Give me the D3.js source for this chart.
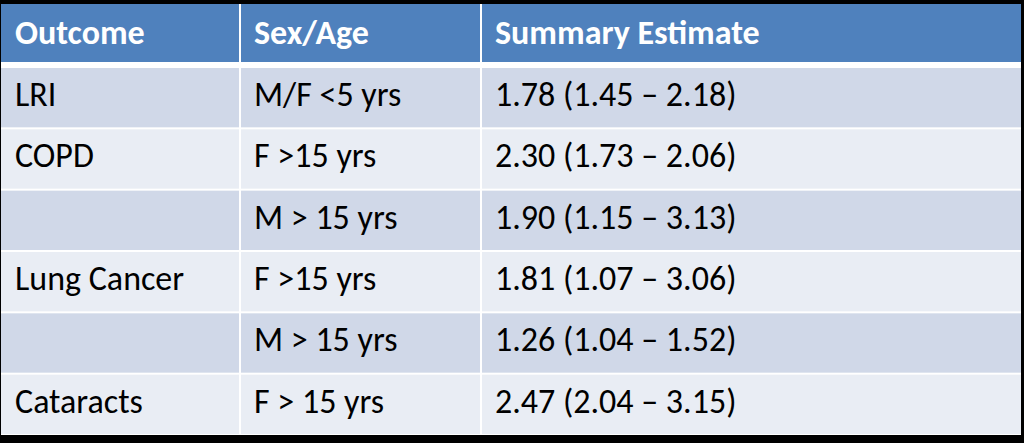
<!DOCTYPE html>
<html>
<head>
<meta charset="utf-8">
<script src="https://cdn.jsdelivr.net/npm/d3@7"></script>
<style>
  html, body { margin: 0; padding: 0; background: #000; }
  svg { display: block; }
</style>
</head>
<body>
<div id="table"></div>
<script>
const headers = ['Outcome', 'Sex/Age', 'Summary Estimate']
const outcomes = ['LRI', 'COPD', '', 'Lung Cancer', '', 'Cataracts']
const sexAge = ['M/F <5 yrs', 'F >15 yrs', 'M > 15 yrs', 'F >15 yrs', 'M > 15 yrs', 'F > 15 yrs']
const estimates = ['1.78 (1.45 – 2.18)', '2.30 (1.73 – 2.06)', '1.90 (1.15 – 3.13)',
  '1.81 (1.07 – 3.06)', '1.26 (1.04 – 1.52)', '2.47 (2.04 – 3.15)']

const width = 1024
const height = 443
const fontFamily = 'Carlito, Lato, "Open Sans", sans-serif'
const fontSize = 34

const svg = d3.select('#table').append('svg')
  .attr('width', width)
  .attr('height', height)

svg.append('rect').attr('width', width).attr('height', height).attr('fill', '#000')

// column edges: Outcome | Sex/Age | Summary Estimate
const colEdges = [1, 240, 481, 1021]
const x = d3.scaleOrdinal().domain([0, 1, 2]).range(colEdges.slice(0, 3))
const colWidth = i => colEdges[i + 1] - colEdges[i]

// white table body behind cells gives the grid lines
svg.append('rect')
  .attr('x', colEdges[0]).attr('y', 4)
  .attr('width', colEdges[3] - colEdges[0]).attr('height', 431)
  .attr('fill', '#fff')

const rows = d3.range(outcomes.length).map(i => [outcomes[i], sexAge[i], estimates[i]])
const y = d3.scaleBand().domain(d3.range(rows.length)).range([66, 434])

// header
const header = svg.append('g')
header.selectAll('rect')
  .data(headers)
  .join('rect')
  .attr('x', (d, i) => x(i) + (i ? 1 : 0))
  .attr('y', 4)
  .attr('width', (d, i) => colWidth(i) - (i ? 1 : 0) - (i < 2 ? 1 : 0))
  .attr('height', 58)
  .attr('fill', '#4f81bd')
header.selectAll('text')
  .data(headers)
  .join('text')
  .attr('x', (d, i) => x(i) + 14)
  .attr('y', 44)
  .attr('fill', '#fff')
  .attr('font-family', fontFamily)
  .attr('font-weight', 'bold')
  .attr('font-size', fontSize)
  .text(d => d)

// body rows
const row = svg.append('g').selectAll('g')
  .data(rows)
  .join('g')
  .attr('transform', (d, i) => `translate(0, ${y(i)})`)

row.selectAll('rect')
  .data((d, i) => d.map(v => ({ v, r: i })))
  .join('rect')
  .attr('x', (d, i) => x(i) + (i ? 1 : 0))
  .attr('y', 2)
  .attr('width', (d, i) => colWidth(i) - (i ? 1 : 0) - (i < 2 ? 1 : 0))
  .attr('height', y.bandwidth() - 2)
  .attr('fill', d => d.r % 2 === 0 ? '#d0d8e8' : '#e9edf4')

row.selectAll('text')
  .data(d => d)
  .join('text')
  .attr('x', (d, i) => x(i) + 14)
  .attr('y', 40)
  .attr('fill', '#000')
  .attr('font-family', fontFamily)
  .attr('font-size', fontSize)
  .text(d => d)
</script>
</body>
</html>
